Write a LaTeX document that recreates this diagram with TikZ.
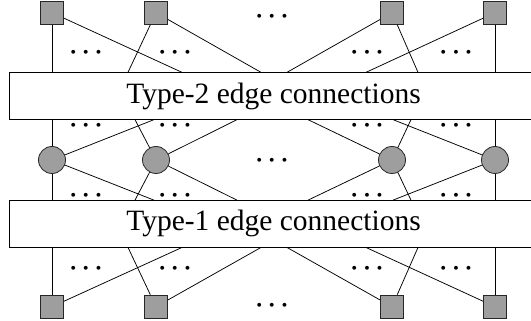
\documentclass[tikz,border=0pt]{standalone}
\usepackage{fontspec}
\setmainfont{Liberation Serif}
\begin{document}
\begin{tikzpicture}[x=1pt,y=1pt,
  sq/.style={draw=black!85,fill=black!38,line width=0.8pt,minimum size=23.3pt,inner sep=0pt,rectangle},
  cir/.style={draw=black!85,fill=black!38,line width=0.8pt,minimum size=27pt,inner sep=0pt,circle},
  bigbox/.style={draw=black,fill=white,line width=0.8pt,minimum width=529pt,minimum height=46.5pt,inner sep=0pt,
     font=\fontsize{29.5}{35}\selectfont},
  dd/.style={anchor=base,inner sep=0pt,font={\fontsize{27}{33}\selectfont\boldmath}},
  ln/.style={line width=0.75pt,black}]
\useasboundingbox (0,0) rectangle (531,321);
\clip (0,0) rectangle (531,321);
% boxes
\node[bigbox] (b2) at (273.5,225) {Type-2 edge connections};
\node[bigbox] (b1) at (273.5,97.2) {Type-1 edge connections};
% nodes
\foreach \i/\x in {1/52,2/156,3/392,4/495}{
  \node[sq] (s\i) at (\x,308.3) {};
  \node[cir] (c\i) at (\x,161) {};
  \node[sq] (t\i) at (\x,14.3) {};
}
% top squares to b2
\draw[ln] (s1) -- (s1 |- b2.north);
\draw[ln] (s1) -- (182,0 |- b2.north);
\draw[ln] (s2) -- (128,0 |- b2.north);
\draw[ln] (s2) -- (261,0 |- b2.north);
\draw[ln] (s3) -- (287,0 |- b2.north);
\draw[ln] (s3) -- (418,0 |- b2.north);
\draw[ln] (s4) -- (366,0 |- b2.north);
\draw[ln] (s4) -- (s4 |- b2.north);
% bottom squares to b1
\draw[ln] (t1) -- (t1 |- b1.south);
\draw[ln] (t1) -- (182,0 |- b1.south);
\draw[ln] (t2) -- (128,0 |- b1.south);
\draw[ln] (t2) -- (261,0 |- b1.south);
\draw[ln] (t3) -- (287,0 |- b1.south);
\draw[ln] (t3) -- (418,0 |- b1.south);
\draw[ln] (t4) -- (366,0 |- b1.south);
\draw[ln] (t4) -- (t4 |- b1.south);
% circles to both boxes
\foreach \b/\a in {b2/south,b1/north}{
  \draw[ln] (c1) -- (c1 |- \b.\a);
  \draw[ln] (c1) -- (154,0 |- \b.\a);
  \draw[ln] (c2) -- (135,0 |- \b.\a);
  \draw[ln] (c2) -- (237,0 |- \b.\a);
  \draw[ln] (c3) -- (308,0 |- \b.\a);
  \draw[ln] (c3) -- (411,0 |- \b.\a);
  \draw[ln] (c4) -- (393,0 |- \b.\a);
  \draw[ln] (c4) -- (c4 |- \b.\a);
}
% dots
\foreach \r/\y in {a/269.3,b/196,c/126.7,d/53.7}{
  \foreach \k/\x in {1/86,2/175,3/367,4/456}{
    \node[dd] (d\r\k) at (\x,\y-6.8) {$\cdots$};
  }
}
\node[dd] (dm1) at (272,305.7-6.8) {$\cdots$};
\node[dd] (dm2) at (272,161.7-6.8) {$\cdots$};
\node[dd] (dm3) at (272,16.7-6.8) {$\cdots$};
\end{tikzpicture}
\end{document}
